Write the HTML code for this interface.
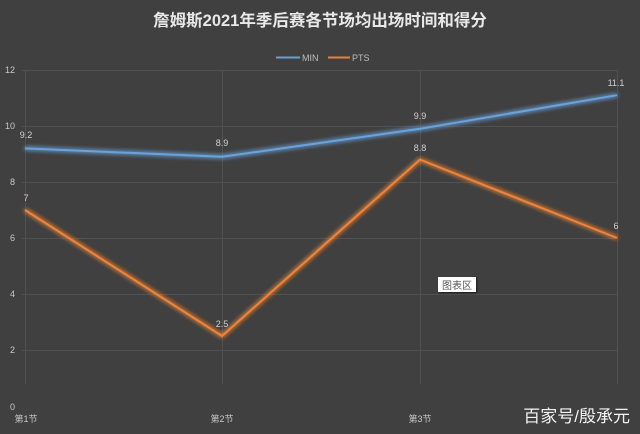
<!DOCTYPE html>
<html><head><meta charset="utf-8"><style>
html,body{margin:0;padding:0;background:#404040;}
svg{display:block;}
text{font-family:"Liberation Sans","Noto Sans CJK SC",sans-serif;}
</style></head><body>
<svg width="640" height="434" viewBox="0 0 640 434" xmlns="http://www.w3.org/2000/svg">
<defs>
<filter id="glowB" x="-10%" y="-50%" width="120%" height="200%"><feGaussianBlur stdDeviation="2.5" result="b"/><feMerge><feMergeNode in="b"/><feMergeNode in="b"/><feMergeNode in="SourceGraphic"/></feMerge></filter>
<filter id="glowO" x="-10%" y="-50%" width="120%" height="200%"><feGaussianBlur stdDeviation="2.5" result="b"/><feMerge><feMergeNode in="b"/><feMergeNode in="b"/><feMergeNode in="SourceGraphic"/></feMerge></filter>
<filter id="sh" x="-20%" y="-20%" width="140%" height="160%"><feDropShadow dx="1" dy="1" stdDeviation="1" flood-color="#000" flood-opacity="0.6"/></filter>
</defs>
<rect width="640" height="434" fill="#404040"/>
<text x="320" y="26" text-anchor="middle" font-size="16.5" font-weight="bold" fill="#e8e8e8">詹姆斯2021年季后赛各节场均出场时间和得分</text>
<line x1="276" y1="57.5" x2="300" y2="57.5" stroke="#6a9fd4" stroke-width="2"/>
<text x="302" y="61" font-size="9" fill="#bcbcbc">MIN</text>
<line x1="328" y1="57.5" x2="350" y2="57.5" stroke="#e8823a" stroke-width="2"/>
<text x="352" y="61" font-size="9" fill="#bcbcbc">PTS</text>
<g stroke="#515151" stroke-width="1">
<line x1="22" y1="70.5" x2="617" y2="70.5"/>
<line x1="22" y1="126.5" x2="617" y2="126.5"/>
<line x1="22" y1="182.5" x2="617" y2="182.5"/>
<line x1="22" y1="238.5" x2="617" y2="238.5"/>
<line x1="22" y1="294.5" x2="617" y2="294.5"/>
<line x1="22" y1="350.5" x2="617" y2="350.5"/>
<line x1="25.5" y1="70" x2="25.5" y2="384"/>
<line x1="222.5" y1="70" x2="222.5" y2="384"/>
<line x1="420.5" y1="70" x2="420.5" y2="384"/>
<line x1="617.5" y1="70" x2="617.5" y2="384"/>
</g>
<g font-size="9" fill="#c8c8c8" text-anchor="end">
<text x="15" y="73">12</text>
<text x="15" y="129">10</text>
<text x="15" y="185">8</text>
<text x="15" y="241">6</text>
<text x="15" y="297">4</text>
<text x="15" y="353">2</text>
<text x="15" y="410">0</text>
</g>
<g font-size="9" fill="#c8c8c8" text-anchor="middle">
<text x="26" y="422">第1节</text>
<text x="222" y="422">第2节</text>
<text x="420" y="422">第3节</text>
</g>
<polyline points="25,148.4 222,156.8 420,128.8 617,95.2" fill="none" stroke="#6aa2dc" stroke-width="2" filter="url(#glowB)"/>
<polyline points="25,210 222,336 420,159.6 617,238" fill="none" stroke="#ef8437" stroke-width="2" filter="url(#glowO)"/>
<g font-size="9" fill="#d0d0d0" text-anchor="middle">
<text x="26" y="138">9.2</text>
<text x="222" y="146">8.9</text>
<text x="420" y="119">9.9</text>
<text x="616" y="86">11.1</text>
<text x="26" y="201">7</text>
<text x="222" y="327">2.5</text>
<text x="420" y="151">8.8</text>
<text x="616" y="229">6</text>
</g>
<rect x="438" y="277" width="38" height="15" fill="#ffffff" filter="url(#sh)"/>
<text x="457" y="289" font-size="10" fill="#555" text-anchor="middle">图表区</text>
<text x="630" y="422" font-size="17" fill="#f2f2f2" text-anchor="end">百家号/殷承元</text>
</svg>
</body></html>
